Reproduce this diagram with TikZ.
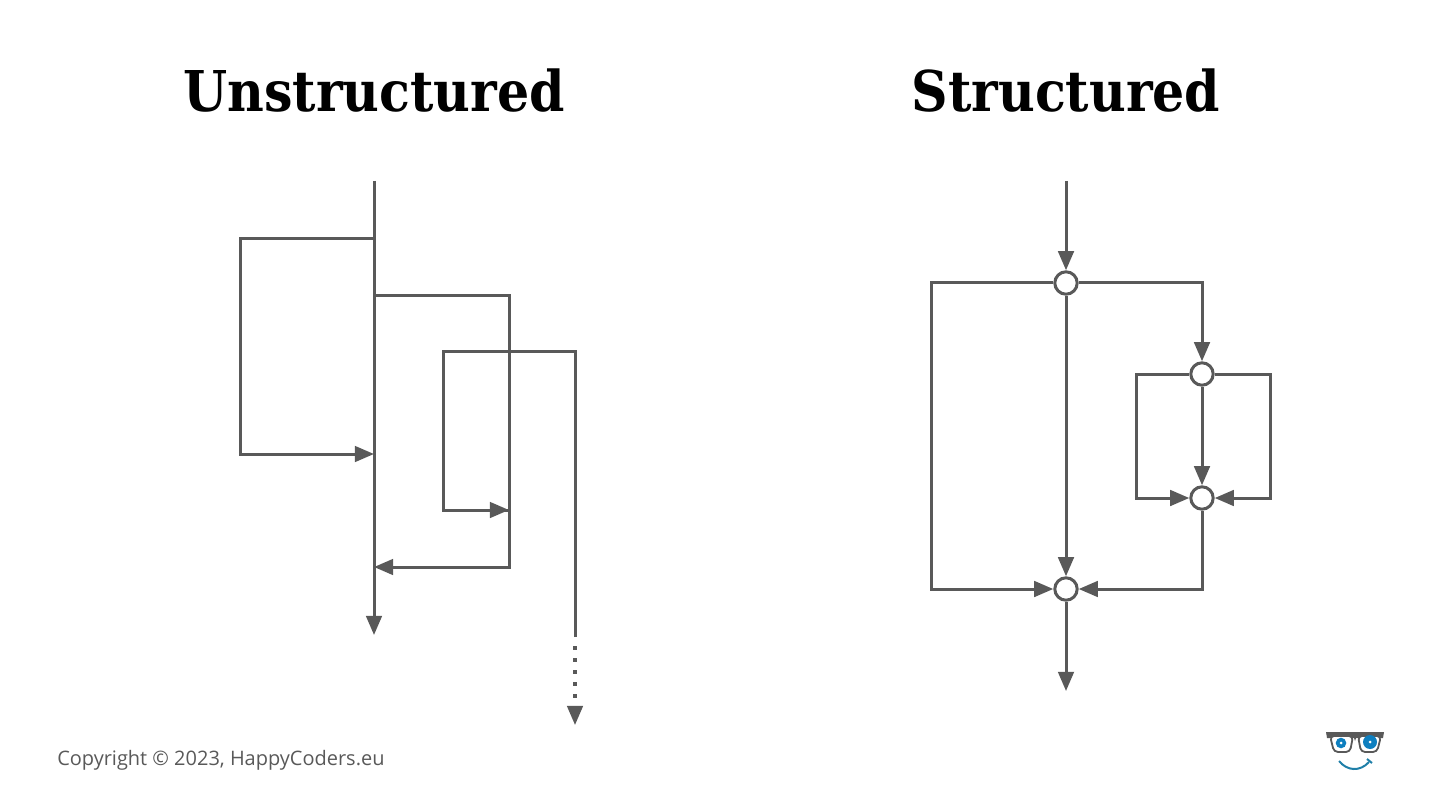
\documentclass[tikz,border=0pt]{standalone}
\usepackage{fontspec}
\setmainfont{Open Sans}
\newfontfamily\titlefont{DejaVu Serif Condensed}
\usetikzlibrary{arrows.meta,positioning}
\definecolor{flowgray}{HTML}{595959}
\definecolor{logoblue}{HTML}{0E7FBF}
\definecolor{smileblue}{HTML}{1F7FA8}

\begin{document}
\begin{tikzpicture}[
    x=0.25mm,
    y=-0.25mm,
    on grid,
    flowline/.style={
        draw=flowgray,
        line width=0.75mm,
        line cap=butt
    },
    arrow/.style={
        flowline,
        -{Triangle[length=4.8mm,width=3.9mm]}
    },
    junction/.style={
        draw=flowgray,
        fill=white,
        circle,
        line width=0.75mm,
        inner sep=0pt,
        minimum size=5.6mm
    },
    heading/.style={
        font=\titlefont\bfseries\fontsize{40}{48}\selectfont,
        text=black
    }
]
\useasboundingbox (0,0) rectangle (1440,810);

% Titles
\node[heading] (titleu) at (374,91) {Unstructured};
\node[heading] (titles) at (1066,91) {Structured};

% Unstructured: main line
\coordinate (ustart) at (374,181);
\coordinate[below=11.35cm of ustart] (uend);
\draw[arrow] (ustart) -- (uend);

% Unstructured: left loop
\coordinate[below=1.425cm of ustart] (ua1);
\coordinate[left=3.35cm of ua1] (ua2);
\coordinate[below=5.4cm of ua2] (ua3);
\coordinate[right=3.35cm of ua3] (ua4);
\draw[arrow] (ua1) -- (ua2) -- (ua3) -- (ua4);

% Unstructured: right loop
\coordinate[below=1.425cm of ua1] (ub1);
\coordinate[right=3.375cm of ub1] (ub2);
\coordinate[below=6.8cm of ub2] (ub3);
\coordinate[left=3.375cm of ub3] (ub4);
\draw[arrow] (ub1) -- (ub2) -- (ub3) -- (ub4);

% Unstructured: crossing jump
\coordinate (uc1) at (443,351);
\coordinate[right=3.3cm of uc1] (uc2);
\coordinate[below=7.15cm of uc2] (uc3);
\coordinate[below=3.975cm of uc1] (uc4);
\coordinate[right=1.65cm of uc4] (uc5);
\draw[flowline] (uc3) -- (uc2) -- (uc1) -- (uc4) -- (uc5);
\draw[arrow] (uc4) -- (uc5);

% Unstructured: dotted tail
\coordinate[below=0.225cm of uc3] (ud1);
\coordinate[below=1.5cm of ud1] (ud2);
\coordinate[below=1.75cm of uc3] (ue1);
\coordinate[below=2.2cm of uc3] (ue2);
\draw[flowline, line width=1mm, dash pattern=on 1mm off 2mm] (ud1) -- (ud2);
\draw[arrow] (ue1) -- (ue2);

% Structured: junctions
\coordinate (sstart) at (1066,181);
\node[junction] (j1) at (1066,283) {};
\node[junction, below=7.65cm of j1] (j4) {};
\coordinate[below=2.55cm of j4] (send);
\node[junction] (j2) at (1202,374) {};
\node[junction, below=3.1cm of j2] (j3) {};
\coordinate[left=3.375cm of j1] (sa1);
\coordinate[left=1.65cm of j2] (sc1);
\coordinate[right=1.7cm of j2] (sd1);

% Structured: straight through
\draw[arrow] (sstart) -- (j1);
\draw[arrow] (j1) -- (j4);
\draw[arrow] (j4) -- (send);
\draw[arrow] (j2) -- (j3);

% Structured: branches
\draw[arrow] (j1) -- (sa1) |- (j4);
\draw[arrow] (j1) -| (j2);
\draw[arrow] (j2) -- (sc1) |- (j3);
\draw[arrow] (j2) -- (sd1) |- (j3);
\draw[arrow] (j3) |- (j4);

% Footer
\node[anchor=west, inner sep=0pt, text=flowgray, font=\fontsize{14.2}{17}\selectfont] (copyright) at (57,760) {Copyright © 2023, HappyCoders.eu};

% Logo
\fill[flowgray] (1326,732) -- (1384,732) -- (1383,738) -- (1356,738) -- (1355,741) -- (1354,738) -- (1327,738) -- cycle;
\draw[flowgray, line width=0.45mm, rounded corners=1mm, fill=white] (1330,736) -- (1353,736) -- (1350,752) -- (1334,752) -- cycle;
\draw[flowgray, line width=0.45mm, rounded corners=1mm, fill=white] (1358,736) -- (1381,736) -- (1377,752) -- (1361,752) -- cycle;
\fill[logoblue] (1341,743) circle (5.3);
\fill[logoblue] (1370,742) circle (7);
\fill[white] (1341,743) circle (1.5);
\fill[white] (1370,742) circle (1.5);
\draw[smileblue, line width=0.5mm] (1339,761) .. controls (1347,771) and (1360,772) .. (1369,762);
\draw[smileblue, line width=0.5mm] (1367,759) -- (1372,763);
\end{tikzpicture}
\end{document}
